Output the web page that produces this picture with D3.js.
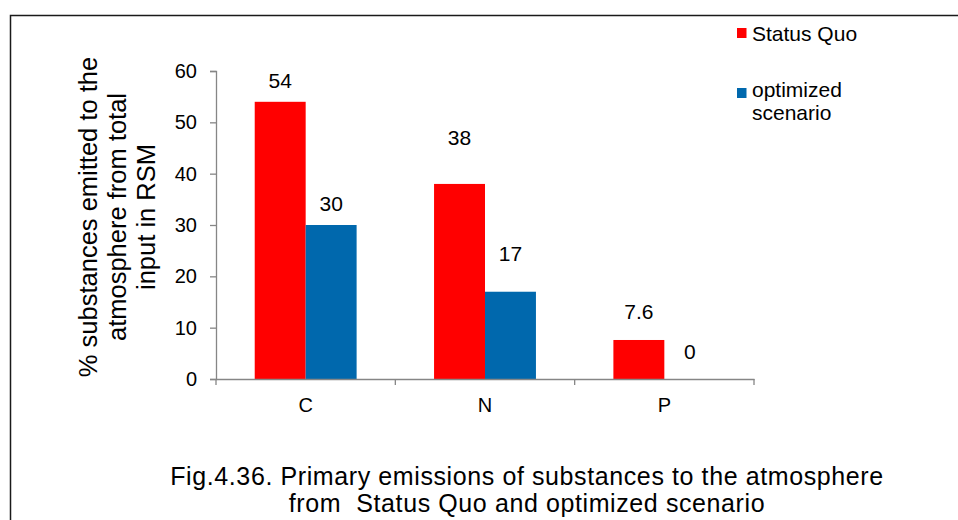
<!DOCTYPE html>
<html><head><meta charset="utf-8">
<script src="https://cdn.jsdelivr.net/npm/d3@7"></script>
<style>
body{margin:0;background:#fff;}
svg{display:block;font-family:"Liberation Sans",Arial,sans-serif;}
</style></head>
<body><svg id="c" width="958" height="520"></svg>
<script>
const categories = ["C", "N", "P"];
const seriesNames = ["Status Quo", "optimized scenario"];
const statusQuo = [54, 38, 7.6];
const optimized = [30, 17, 0];
const yTicks = [0, 10, 20, 30, 40, 50, 60];
const yTitle = ["% substances emitted to the", "atmosphere from total", "input in RSM"];
const caption = ["Fig.4.36. Primary emissions of substances to the atmosphere", "from  Status Quo and optimized scenario"];

const colors = ["#FF0000", "#0068AD"];
const svg = d3.select("#c");
const FF = "Liberation Sans, Arial, sans-serif";

// frame
svg.append("path").attr("d", "M10.5,520 L10.5,15.5 L958,15.5")
  .attr("fill", "none").attr("stroke", "#1a1a1a").attr("stroke-width", 1.5);

const x0 = 216, x1 = 754, yTop = 71, yBot = 379;
const x = d3.scaleBand().domain(categories).range([x0, x1]).paddingInner(0).paddingOuter(0);
const y = d3.scaleLinear().domain([0, 60]).range([yBot, yTop]);
const series = [statusQuo, optimized];
const inner = d3.scaleBand().domain([0, 1]).range([0, x.bandwidth()]).paddingInner(0).paddingOuter(0.76);

// label lifts (px above bar top), following original's placement
const lifts = [[14, 39, 21], [14, 31, 20]];

const g = svg.append("g");
series.forEach((vals, si) => {
  g.selectAll(".b" + si).data(vals).enter().append("rect")
    .attr("x", (d, i) => x(categories[i]) + inner(si))
    .attr("y", d => y(d))
    .attr("width", inner.bandwidth())
    .attr("height", d => yBot - y(d))
    .attr("fill", colors[si]);
  g.selectAll(".l" + si).data(vals).enter().append("text")
    .attr("x", (d, i) => x(categories[i]) + inner(si) + inner.bandwidth() / 2)
    .attr("y", (d, i) => y(d) - lifts[si][i])
    .attr("text-anchor", "middle").attr("font-size", 21).attr("fill", "#000")
    .text(d => d);
});

// y axis
const ya = svg.append("g").attr("transform", `translate(${x0},0)`)
  .call(d3.axisLeft(y).tickValues(yTicks).tickSize(6).tickPadding(13).tickFormat(d3.format("d")));
ya.select(".domain").attr("stroke", "#868686").attr("stroke-width", 1.3);
ya.selectAll(".tick line").attr("stroke", "#868686").attr("stroke-width", 1.3);
ya.selectAll(".tick text").attr("font-size", 20).attr("fill", "#000").attr("font-family", FF);

// x axis
const xa = svg.append("g").attr("transform", `translate(0,${yBot})`)
  .call(d3.axisBottom(x).tickSize(0).tickPadding(19));
xa.select(".domain").attr("stroke", "#868686").attr("stroke-width", 1.3);
xa.selectAll(".tick text").attr("font-size", 20).attr("fill", "#000").attr("font-family", FF).attr("dy", "0.71em");
const bounds = categories.map(c => x(c)).concat([x1]);
svg.append("g").selectAll("line").data(bounds).enter().append("line")
  .attr("x1", d => d).attr("x2", d => d).attr("y1", yBot).attr("y2", yBot + 6)
  .attr("stroke", "#868686").attr("stroke-width", 1.3);

// y title
const yt = svg.append("text").attr("transform", "translate(97,217) rotate(-90)")
  .attr("text-anchor", "middle").attr("font-size", 25.5).attr("fill", "#000");
yTitle.forEach((t, i) => yt.append("tspan").attr("x", 0).attr("dy", i ? 29 : 0).text(t));

// legend
const leg = svg.append("g");
const legRows = [{y: 28, base: [41], lines: [seriesNames[0]]}, {y: 88, base: [97, 120], lines: ["optimized", "scenario"]}];
legRows.forEach((r, i) => {
  leg.append("rect").attr("x", 737).attr("y", r.y).attr("width", 9.5).attr("height", 10).attr("fill", colors[i]);
  const t = leg.append("text").attr("font-size", 21).attr("fill", "#000");
  r.lines.forEach((l, j) => t.append("tspan").attr("x", 752).attr("y", r.base[j]).text(l));
});

// caption
const cap = svg.append("text").attr("text-anchor", "middle").attr("font-size", 25).attr("fill", "#000")
  .attr("letter-spacing", 0.6).attr("xml:space", "preserve").style("white-space", "pre");
caption.forEach((t, i) => cap.append("tspan").attr("x", 527).attr("y", 485 + i * 27).text(t));
</script></body></html>
